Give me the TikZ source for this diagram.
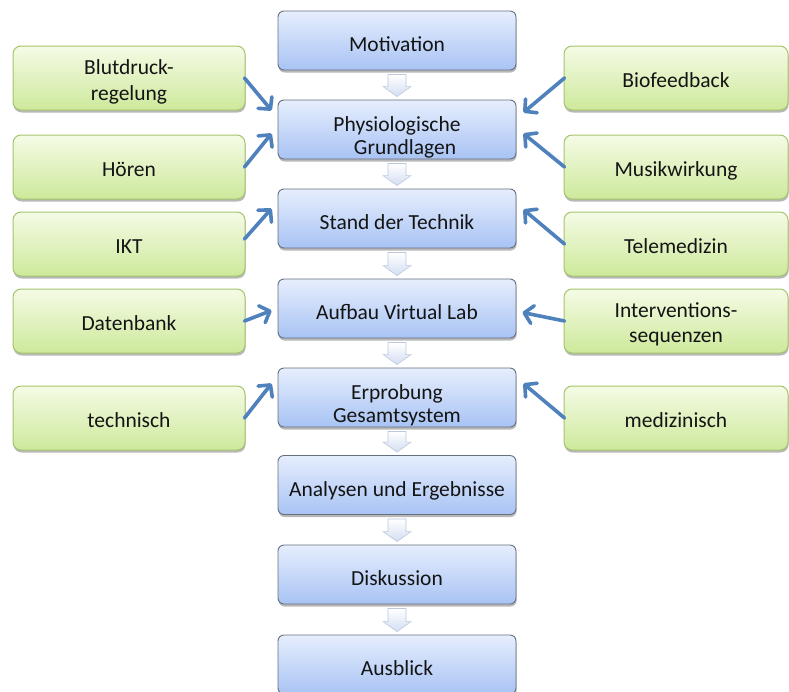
\documentclass[tikz,border=0pt]{standalone}
\usepackage{fontspec}
\setmainfont{Carlito}
\usetikzlibrary{arrows.meta,shadows,calc}

\definecolor{stepline}{HTML}{666F7E}
\definecolor{steptop}{HTML}{E6EEFD}
\definecolor{stepbot}{HTML}{A8C3F4}
\definecolor{topicline}{HTML}{A5C46E}
\definecolor{topictop}{HTML}{F5FBE6}
\definecolor{topicbot}{HTML}{CDE99B}
\definecolor{linkblue}{HTML}{4F81BD}
\definecolor{flowline}{HTML}{BCC8DD}
\definecolor{flowbot}{HTML}{D3DEF2}

% two centred lines, the first line's baseline being the box baseline
\newcommand\twoline[3][0pt]{\begin{tabular}[t]{@{}c@{}}#2\\[#1]#3\end{tabular}}

\tikzset{
  boxbase/.style={align=center, inner sep=0pt, text=black!92,
    font=\fontsize{21.5}{23}\selectfont,
    drop shadow={shadow xshift=0.6pt, shadow yshift=-2.5pt, opacity=0.28, fill=black}},
  stepbox/.style={boxbase, rounded corners=6pt, draw=stepline, line width=0.9pt,
    top color=steptop, bottom color=stepbot, minimum width=238pt, minimum height=59pt,
    text height=22.6pt, text depth=0pt},
  steptwo/.style={stepbox, text height=3pt, text depth=0pt},
  topicbox/.style={boxbase, rounded corners=8pt, draw=topicline, line width=1pt,
    top color=topictop, bottom color=topicbot, minimum height=64pt,
    text height=19.4pt, text depth=0pt},
  topictwo/.style={text height=0pt, text depth=6.4pt},
  leftbox/.style={topicbox, minimum width=232pt},
  rightbox/.style={topicbox, minimum width=224pt},
  link/.style={draw=linkblue, line width=3.6pt, line cap=round,
    -{Straight Barb[length=8.5pt,width=18pt,round]}},
  flowarrow/.style={top color=white, bottom color=flowbot, draw=flowline, line width=0.6pt}
}

% hollow block arrow from the bottom of one step to the top of the next
\newcommand\flowstep[2]{%
  \path[flowarrow]
    ([xshift=-9pt,yshift=-4pt]#1.south) -- ([xshift=9pt,yshift=-4pt]#1.south)
    -- ([xshift=9pt,yshift=13pt]#2.north) -- ([xshift=14pt,yshift=13pt]#2.north)
    -- ([yshift=3pt]#2.north) -- ([xshift=-14pt,yshift=13pt]#2.north)
    -- ([xshift=-9pt,yshift=13pt]#2.north) -- cycle;}

\begin{document}
\begin{tikzpicture}[x=1pt,y=-1pt]
\useasboundingbox (0,0) rectangle (789,691);
\clip (0,0) rectangle (789,691);
\fill[white] (0,0) rectangle (789,691);

% main sequence
\node[stepbox] (mot)  at (397,40.5)  {Motivation};
\node[steptwo] (phys) at (397,129.5) {\twoline{Physiologische}{\hspace*{16pt}Grundlagen}};
\node[stepbox] (sdt)  at (397,218.5) {Stand der Technik};
\node[stepbox] (vlab) at (397,308.5) {Aufbau Virtual Lab};
\node[steptwo] (erp)  at (397,397.5) {\twoline{Erprobung}{Gesamtsystem}};
\node[stepbox] (ana)  at (397,485)   {Analysen und Ergebnisse};
\node[stepbox] (disk) at (397,574.5) {Diskussion};
\node[stepbox] (ausb) at (397,664.5) {Ausblick};

\flowstep{mot}{phys}
\flowstep{phys}{sdt}
\flowstep{sdt}{vlab}
\flowstep{vlab}{erp}
\flowstep{erp}{ana}
\flowstep{ana}{disk}
\flowstep{disk}{ausb}

% left topics
\node[leftbox,topictwo] (blut) at (129,78)  {\twoline[3pt]{Blutdruck-}{regelung}};
\node[leftbox] (hoer) at (129,167) {Hören};
\node[leftbox] (ikt)  at (129,244) {IKT};
\node[leftbox] (db)   at (129,321) {Datenbank};
\node[leftbox] (tech) at (129,418) {technisch};

% right topics
\node[rightbox] (bio)   at (676,78)  {Biofeedback};
\node[rightbox] (musik) at (676,167) {Musikwirkung};
\node[rightbox] (tele)  at (676,244) {Telemedizin};
\node[rightbox,topictwo] (inter) at (676,321) {\twoline[2pt]{Interventions-}{sequenzen}};
\node[rightbox] (med)   at (676,418) {medizinisch};

% links into the main sequence
\draw[link] ([xshift=-1pt]blut.east) -- ([xshift=-6pt,yshift=19pt]phys.west);
\draw[link] ([xshift=-1pt]hoer.east) -- ([xshift=-6pt,yshift=-4pt]phys.west);
\draw[link] ([xshift=-1pt,yshift=5pt]ikt.east) -- ([xshift=-6pt,yshift=10pt]sdt.west);
\draw[link] ([xshift=-1pt]db.east) -- ([xshift=-6pt,yshift=-2pt]vlab.west);
\draw[link] ([xshift=-1pt]tech.east) -- ([xshift=-6pt,yshift=14pt]erp.west);

\draw[link] ([xshift=1pt]bio.west) -- ([xshift=7pt,yshift=17pt]phys.east);
\draw[link] ([xshift=1pt]musik.west) -- ([xshift=7pt,yshift=-4pt]phys.east);
\draw[link] ([xshift=1pt]tele.west) -- ([xshift=7pt,yshift=9pt]sdt.east);
\draw[link] ([xshift=1pt]inter.west) -- ([xshift=6pt,yshift=-4pt]vlab.east);
\draw[link] ([xshift=1pt]med.west) -- ([xshift=7pt,yshift=14pt]erp.east);
\end{tikzpicture}
\end{document}
